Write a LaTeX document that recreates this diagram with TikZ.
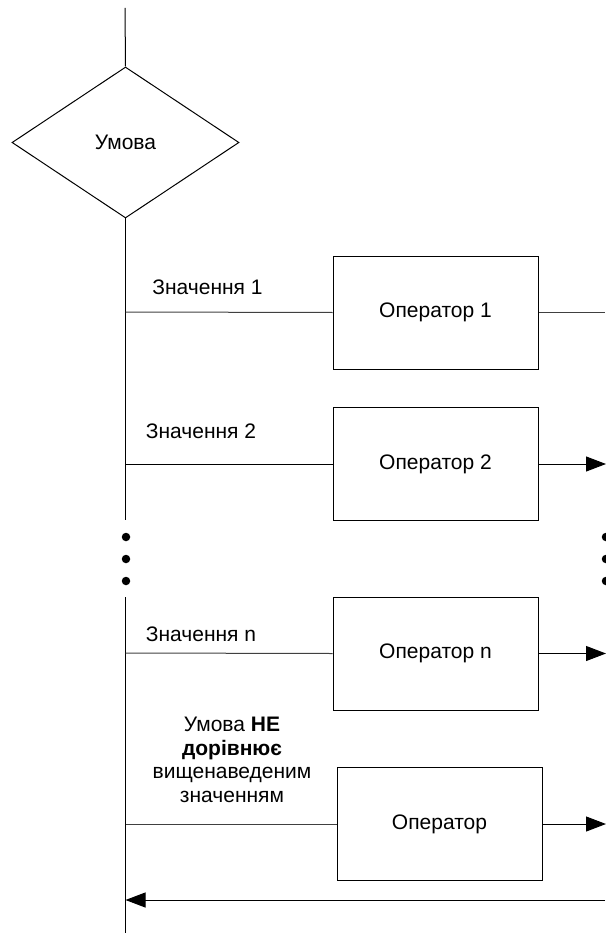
\documentclass[tikz,border=0pt]{standalone}
\usepackage{fontspec}
\setmainfont{Liberation Sans}
\usetikzlibrary{shapes.geometric,arrows.meta}
\begin{document}
\begin{tikzpicture}[x=1pt,y=-1pt,
  every node/.style={font=\fontsize{21}{23.5}\selectfont},
  ln/.style={line width=1pt,draw=black},
  glin/.style={line width=1pt,draw=black!75},
  arr/.style={line width=1pt,-{Triangle[length=20pt,width=15pt]}},
  opbox/.style={draw,line width=1pt,rectangle,minimum width=205pt,minimum height=113pt,inner sep=0pt},
  cond/.style={draw,line width=1pt,diamond,minimum width=227pt,minimum height=151pt,inner sep=0pt},
  lbl/.style={inner sep=0pt,align=center},
  dotc/.style={circle,fill=black,inner sep=0pt,minimum size=8.5pt}]
\useasboundingbox (0,0) rectangle (605,933);
% decision
\coordinate (top) at (125,8);
\node[cond] (d) at (125.5,142.5) {Умова};
\draw[ln] (top) -- (d.north);
% spine points
\coordinate (s1) at (125.5,312);
\coordinate (s2) at (125.5,464);
\coordinate (sA) at (125.5,520);
\coordinate (sB) at (125.5,597);
\coordinate (s3) at (125.5,653);
\coordinate (s4) at (125.5,824);
\coordinate (sR) at (125.5,900);
\coordinate (bot) at (125.5,933);
\draw[ln] (d.south) -- (sA);
\draw[ln] (sB) -- (bot);
% dots
\node[dotc] (dl1) at (126,537) {};
\node[dotc] (dl2) at (126,559) {};
\node[dotc] (dl3) at (126,581) {};
\node[dotc] (dr1) at (606,537) {};
\node[dotc] (dr2) at (606,559) {};
\node[dotc] (dr3) at (606,581) {};
% boxes
\node[opbox] (b1) at (435.5,312.5) {Оператор 1};
\node[opbox] (b2) at (435.5,464) {Оператор 2};
\node[opbox] (bn) at (435.5,653.5) {Оператор n};
\node[opbox] (bd) at (439.5,824) {Оператор};
% right ends
\coordinate (e1) at (605,312.5);
\coordinate (e2) at (606,464);
\coordinate (en) at (606,653.5);
\coordinate (ed) at (606,824);
\coordinate (er) at (605,900);
% connectors
\draw[glin] (s1) -- (b1.west);
\draw[glin] (b1.east) -- (e1);
\draw[ln] (s2) -- (b2.west);
\draw[ln,arr] (b2.east) -- (e2);
\draw[glin] (s3) -- (bn.west);
\draw[ln,arr] (bn.east) -- (en);
\draw[glin] (s4) -- (bd.west);
\draw[ln,arr] (bd.east) -- (ed);
\draw[ln,arr] (er) -- (sR);
% labels
\node[lbl] (l1) at (207.5,287) {Значення 1};
\node[lbl] (l2) at (201,431) {Значення 2};
\node[lbl] (ln3) at (201,634) {Значення n};
\node[lbl] (l4) at (232,760) {Умова \textbf{НЕ}\\\textbf{дорівнює}\\вищенаведеним\\значенням};
\end{tikzpicture}
\end{document}
